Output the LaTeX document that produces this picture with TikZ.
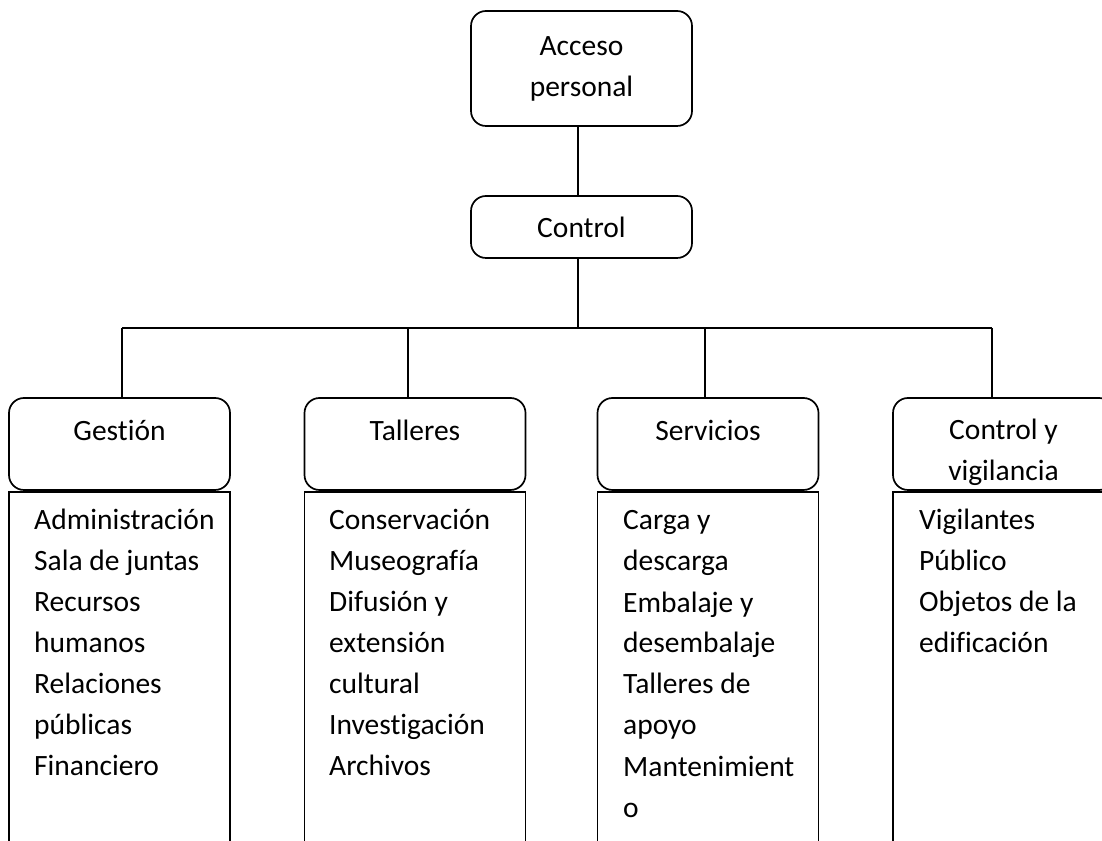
\documentclass[tikz,border=0pt]{standalone}
\usepackage{fontspec}
\setmainfont{Carlito}[Ligatures=NoCommon]
\usetikzlibrary{calc}
\newcommand{\tamano}{\fontsize{29.5}{41}\selectfont}
\begin{document}
\begin{tikzpicture}[x=1pt,y=1pt,line width=1.7pt,
	caja/.style={draw,rounded corners=15pt,minimum width=221pt,inner sep=0pt},
	lista/.style={draw,minimum width=221pt,minimum height=400pt,anchor=north,inner sep=0pt},
	titulo/.style={font=\tamano,align=center,anchor=base},
	items/.style={font=\tamano,align=left,anchor=base west}]
		\useasboundingbox (0,0) rectangle (1102,840);
		\clip (0,0) rectangle (1102,840);
		\node[caja,minimum height=115pt,font=\tamano,align=center] (acceso) at (581.5,771.5) {Acceso\\personal};
		\node[caja,minimum height=62pt,font=\tamano] (control) at (581.5,613) {Control};
		\coordinate (tallo) at (578,512);
		\draw (acceso.south -| tallo) -- (control.north -| tallo);
		\draw (control.south -| tallo) -- (tallo);
		\node[caja,minimum height=92pt] (gestion) at (119.5,396) {};
		\node[caja,minimum height=92pt] (talleres) at (415,396) {};
		\node[caja,minimum height=92pt] (servicios) at (708,396) {};
		\node[caja,minimum height=92pt] (vigilancia) at (1003.5,396) {};
		\node[lista] (gestionL) at (119.5,349) {};
		\node[lista] (talleresL) at (415,349) {};
		\node[lista] (serviciosL) at (708,349) {};
		\node[lista] (vigilanciaL) at (1003.5,349) {};
		\coordinate (r1) at (122,512);
		\coordinate (r2) at (408,512);
		\coordinate (r3) at (705,512);
		\coordinate (r4) at (992,512);
		\draw (r1) -- (r4);
		\foreach \r/\c in {r1/gestion,r2/talleres,r3/servicios,r4/vigilancia}
			\draw (\r) -- (\r |- \c.north);
		\node[titulo] (gestionT) at (119.5,399) {Gestión};
		\node[titulo] (talleresT) at (415,399) {Talleres};
		\node[titulo] (serviciosT) at (708,399) {Servicios};
		\node[titulo] (vigilanciaT) at (1003.5,359) {Control y\\vigilancia};
		\node[items] (gestionI) at (30,64)
		{Administración\\Sala de juntas\\Recursos\\humanos\\Relaciones\\públicas\\Financiero};
		\node[items] (talleresI) at (325,64)
		{Conservación\\Museografía\\Difusión y\\extensión\\cultural\\Investigación\\Archivos};
		\node[items] (serviciosI) at (619,23)
		{Carga y\\descarga\\Embalaje y\\desembalaje\\Talleres de\\apoyo\\Mantenimient\\o};
		\node[items] (vigilanciaI) at (915,187)
		{Vigilantes\\Público\\Objetos de la\\edificación};
	\end{tikzpicture}
\end{document}
